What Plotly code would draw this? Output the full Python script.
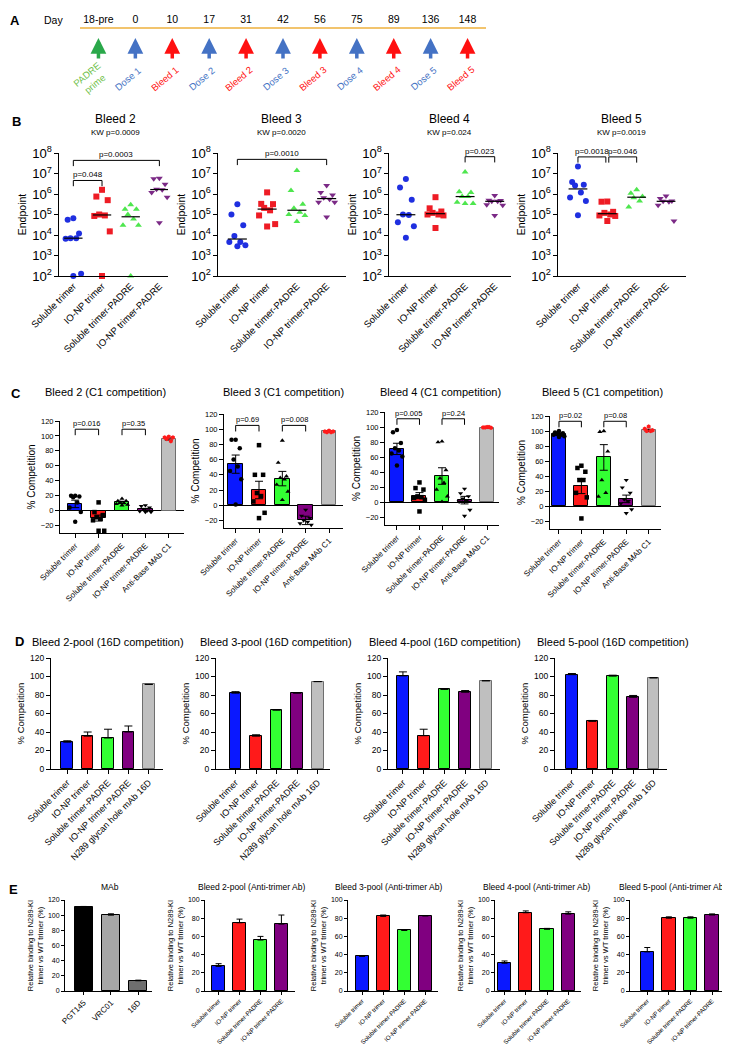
import math
import plotly.graph_objects as go

W, H = 730, 1050
FONT = "'Liberation Sans', Arial, sans-serif"

# ======================= DATA =======================
# Panel A: immunization schedule
days = ["18-pre", "0", "10", "17", "31", "42", "56", "75", "89", "136", "148"]
events = ["PADRE<br>prime", "Dose 1", "Bleed 1", "Dose 2", "Bleed 2", "Dose 3",
          "Bleed 3", "Dose 4", "Bleed 4", "Dose 5", "Bleed 5"]
event_types = ["prime", "dose", "bleed", "dose", "bleed", "dose",
               "bleed", "dose", "bleed", "dose", "bleed"]

groups = ["Soluble trimer", "IO-NP trimer", "Soluble trimer-PADRE", "IO-NP trimer-PADRE"]

# Panel B: endpoint titers (per group)
b_titles = ["Bleed 2", "Bleed 3", "Bleed 4", "Bleed 5"]
b_kw = ["KW p=0.0009", "KW p=0.0020", "KW p=0.024", "KW p=0.0019"]
b_bleed2 = [
    [6.5e4, 5.5e4, 1.2e4, 7e3, 7e3, 6.5e3, 130, 100],
    [1.6e6, 7.5e5, 5e5, 1e5, 9e4, 8.5e4, 1.5e4, 100],
    [3e5, 1.8e5, 1.8e5, 1e5, 6e4, 3e4, 3e4, 100],
    [5.8e6, 5.5e6, 3e6, 1.7e6, 1.6e6, 1.2e6, 7e5, 4e4],
]
b_bleed3 = [
    [3.2e5, 1e5, 3e4, 9e3, 4.5e3, 4.5e3, 3.2e3, 2.8e3],
    [1.2e6, 3.3e5, 3.2e5, 2.1e5, 1.6e5, 9e4, 3.4e4, 2.6e4],
    [1.4e7, 1.5e6, 3.2e5, 2e5, 1.3e5, 1e5, 9e4, 4.5e4],
    [2.6e6, 1.2e6, 9e5, 6.5e5, 5.5e5, 4e5, 4e5, 7.5e4],
]
b_bleed4 = [
    [5.4e6, 2.1e6, 5.2e5, 1e5, 9.5e4, 4.2e4, 2.7e4, 7.3e3],
    [7e5, 2e5, 1.4e5, 1.2e5, 1e5, 1e5, 9e4, 2.2e4],
    [1.2e7, 1.3e6, 1.2e6, 7.5e5, 7.5e5, 4e5, 3.4e5, 3.4e5],
    [8.5e5, 5e5, 4.8e5, 4.4e5, 4.4e5, 3e5, 2.8e5, 9e4],
]
b_bleed5 = [
    [2.2e7, 3.8e6, 2.8e6, 2.6e6, 1.2e6, 6.8e5, 4.6e5, 9.3e4],
    [4.3e5, 4.2e5, 1.35e5, 1.2e5, 1e5, 9e4, 8.5e4, 4.8e4],
    [1.6e6, 1.1e6, 7.5e5, 6.5e5, 4.5e5, 2.3e5],
    [8e5, 6e5, 4.6e5, 4.4e5, 4.2e5, 2.8e5, 4.8e4],
]
b_data = [b_bleed2, b_bleed3, b_bleed4, b_bleed5]
# (label, group i, group j, bracket top)
b_tests = [
    [("p=0.048", 0, 1, 10 ** 6.66), ("p=0.0003", 0, 3, 10 ** 7.64)],
    [("p=0.0010", 0, 3, 10 ** 7.69)],
    [("p=0.023", 2, 3, 10 ** 7.82)],
    [("p=0.0018", 0, 1, 10 ** 7.81), ("p=0.046", 1, 2, 10 ** 7.81)],
]

# Panel C: C1 competition (% competition)
c_titles = ["Bleed 2 (C1 competition)", "Bleed 3 (C1 competition)",
            "Bleed 4 (C1 competition)", "Bleed 5 (C1 competition)"]
c_categories = groups + ["Anti-Base MAb C1"]
c_means = [
    [9, -10, 11, 1.5, 96],
    [54, 20, 35, -20, 97],
    [71, 9, 35, 3, 99],
    [96, 27, 65, 10, 101],
]
c_sems = [
    [5, 4, 1.5, 1.5, 1.5],
    [12, 11.5, 9.5, 5.5, 1],
    [7.5, 4, 11, 5, 0.5],
    [1.5, 10, 17, 5, 1.5],
]
c_points = [
    [[20, 20, 19, 18, 11, 4, -2, -15],
     [11, -2, -6, -9, -11, -13, -27, -27],
     [16, 13, 13, 11, 10, 9, 8, 7],
     [7, 6, 4, 2, 0, -1, -2, -2],
     [99, 98, 98, 96, 93]],
    [[86, 86, 75, 60, 51, 45, 34, 1],
     [79, 40, 40, 16, 12, 5, -10, -17],
     [85, 56, 38, 36, 34, 27, 18, 7],
     [-6, -14, -17, -20, -22, -24, -26, -31],
     [98, 97, 97, 96, 96]],
    [[96, 93, 79, 72, 69, 65, 61, 49],
     [26.5, 19, 17, 8, 7, 6, 3.5, -12],
     [81, 80, 43, 32, 26, 17, 8, 1],
     [18, 12, 8, 5, 2, 1, -10, -18],
     [100, 99.5, 99, 99.5, 100]],
    [[100, 98, 97, 96, 95, 95, 93, 92],
     [54, 51, 46, 35, 35, 18, 12, -16],
     [100, 99, 73, 35, 18, 13],
     [35, 25, 18, 9, 7, 4, -4, -9],
     [106, 103, 101, 100, 100]],
]
c_tests = [
    [("p=0.016", 0, 1, 109), ("p=0.35", 2, 3, 109)],
    [("p=0.69", 0, 1, 105), ("p=0.008", 2, 3, 105)],
    [("p=0.005", 0, 1, 111), ("p=0.24", 2, 3, 111)],
    [("p=0.02", 0, 1, 113), ("p=0.08", 2, 3, 113)],
]

# Panel D: 16D competition of pooled sera
d_titles = ["Bleed 2-pool (16D competition)", "Bleed 3-pool (16D competition)",
            "Bleed 4-pool (16D competition)", "Bleed 5-pool (16D competition)"]
d_categories = groups + ["N289 glycan hole mAb 16D"]
d_means = [
    [29, 35.5, 33.5, 40, 91.5],
    [82, 35.5, 63.6, 82, 94.5],
    [100.7, 36, 86, 83, 95.4],
    [102, 51.5, 100.4, 77.5, 98.6],
]
d_errs = [
    [1.5, 4.5, 9.5, 6.5, 0],
    [1.6, 1.5, 0.4, 0.5, 0],
    [4.3, 7, 1, 1.8, 0],
    [1.2, 1, 1, 2, 0],
]

# Panel E: relative binding to N289-KI trimer vs WT trimer (%)
e_titles = ["MAb", "Bleed 2-pool (Anti-trimer Ab)", "Bleed 3-pool (Anti-trimer Ab)",
            "Bleed 4-pool (Anti-trimer Ab)", "Bleed 5-pool (Anti-trimer Ab)"]
e_mabs = ["PGT145", "VRC01", "16D"]
e_mab_vals = [111, 100, 13.5]
e_mab_errs = [0.5, 1.8, 0.8]
e_pool_vals = [
    [27, 75, 56, 73.5],
    [38, 82, 66.5, 82.5],
    [30.5, 86, 67.8, 84.5],
    [43, 80, 80, 83.5],
]
e_pool_errs = [
    [3, 4, 4, 10],
    [1, 1.5, 0.8, 0.3],
    [2.5, 2, 1, 2.5],
    [4.8, 1.5, 1.5, 1.2],
]

# ======================= STYLE =======================
COL_B = ["#1f2fe0", "#ee1c25", "#4ee64e", "#7b2a86"]
SYM_B = ["circle", "square", "triangle-up", "triangle-down"]
COL_BAR = ["#0a18ff", "#ff1a1a", "#33ff33", "#800080", "#bfbfbf"]
LINE_BAR = ["black", "black", "black", "black", "#6e6e6e"]
EV_COL = {"prime": "#2aa84a", "dose": "#4472c4", "bleed": "#ff1010"}
EV_TXT = {"prime": "#6fbf4a", "dose": "#4472c4", "bleed": "#ff1010"}
JIT = [0.0, -0.22, 0.22, -0.11, 0.11, -0.3, 0.3, 0.0, -0.15, 0.15]


def fy(py):
    return 1 - py / H


def tf(size):
    return dict(family=FONT, size=size, color="black")


fig = go.Figure()
layout = {}
annotations = []
count = [0]

base_axis = dict(showline=True, linecolor="black", linewidth=1, ticks="outside",
                 ticklen=4, tickwidth=1, tickcolor="black", showgrid=False,
                 zeroline=False, automargin=False, tickfont=tf(10))


def new_axes(x0, x1, ytop, ybot, xopts, yopts):
    count[0] += 1
    n = count[0]
    s = "" if n == 1 else str(n)
    xa = dict(base_axis)
    xa.update(domain=[x0 / W, x1 / W], anchor="y" + s)
    xa.update(xopts)
    ya = dict(base_axis)
    ya.update(domain=[fy(ybot), fy(ytop)], anchor="x" + s)
    ya.update(yopts)
    layout["xaxis" + s] = xa
    layout["yaxis" + s] = ya
    return "x" + s, "y" + s


def text(x, y, t, size, color="black", bold=False, **kw):
    a = dict(x=x / W, y=fy(y), xref="paper", yref="paper",
             text=("<b>%s</b>" % t) if bold else t, xanchor="center", yanchor="middle",
             showarrow=False, font=dict(family=FONT, size=size, color=color))
    a.update(kw)
    annotations.append(a)


def brackets(xr, yr, tests, leg_fn, logy, size):
    ends = [(t[1], t[2]) for t in tests]
    for lab, i, j, top in tests:
        # leave a small gap where two brackets share a group
        li = i + (0.05 if any(e[1] == i for e in ends) else 0)
        rj = j - (0.05 if any(e[0] == j for e in ends) else 0)
        leg = leg_fn(top)
        fig.add_trace(go.Scatter(x=[li, li, rj, rj], y=[leg, top, top, leg], mode="lines",
                                 line=dict(color="black", width=1), xaxis=xr, yaxis=yr,
                                 hoverinfo="skip", showlegend=False, cliponaxis=False))
        annotations.append(dict(x=(li + rj) / 2, y=math.log10(top) if logy else top,
                                xref=xr, yref=yr, text=lab, showarrow=False,
                                xanchor="center", yanchor="bottom", yshift=-1,
                                font=tf(size)))


# ======================= PANEL A =======================
xa, ya = new_axes(72, 478, 21, 60,
                  dict(range=[-0.5, 10.5], side="top", tickvals=list(range(len(days))),
                       ticktext=days, ticks="", linecolor="#f2c46d", linewidth=2,
                       tickfont=tf(10.5)),
                  dict(range=[0, 1], visible=False))
fig.add_trace(go.Scatter(x=[0], y=[0.5], mode="markers", marker=dict(opacity=0),
                         xaxis=xa, yaxis=ya, showlegend=False, hoverinfo="skip"))
for i, (ev, kind) in enumerate(zip(events, event_types)):
    annotations.append(dict(x=i, y=fy(30), xref=xa, yref="paper", ax=0, ay=22,
                            text="", showarrow=True, arrowhead=2, arrowsize=0.9,
                            arrowwidth=3.5, arrowcolor=EV_COL[kind]))
    annotations.append(dict(x=i, y=fy(71), xref=xa, yref="paper", text=ev,
                            textangle=-40, showarrow=False, xshift=-7,
                            xanchor="center", yanchor="middle",
                            font=dict(family=FONT, size=9.5, color=EV_TXT[kind])))
text(45, 12, "Day", 10.5)
text(7, 12, "A", 13, bold=True)

# ======================= PANEL B =======================
b_geo = [(51, 160, [-0.5, 3.3]), (210, 338, [-0.65, 3.65]),
         (381, 503, [-0.57, 3.55]), (550, 678, [-0.68, 3.68])]
b_title_x = [107, 273, 442, 613]
for p, (x0, x1, xr) in enumerate(b_geo):
    xa, ya = new_axes(x0, x1, 145, 268,
                      dict(range=xr, tickvals=[0, 1, 2, 3], ticktext=groups, tickangle=-45,
                           ticks="", tickfont=tf(9.5)),
                      dict(type="log", range=[2, 8], dtick=1, exponentformat="power",
                           tickfont=tf(10.5),
                           title=dict(text="Endpoint", standoff=3, font=tf(10.5))))
    for g, vals in enumerate(b_data[p]):
        xs = [g + JIT[k % len(JIT)] * 0.9 for k in range(len(vals))]
        fig.add_trace(go.Scatter(x=xs, y=vals, mode="markers", xaxis=xa, yaxis=ya,
                                 marker=dict(symbol=SYM_B[g], color=COL_B[g], size=6,
                                             line=dict(width=0)),
                                 showlegend=False, cliponaxis=False))
        sv = sorted(vals)
        n = len(sv)
        med = sv[n // 2] if n % 2 else math.sqrt(sv[n // 2 - 1] * sv[n // 2])
        fig.add_trace(go.Scatter(x=[g - 0.32, g + 0.32], y=[med, med], mode="lines",
                                 line=dict(color="black", width=1.2), xaxis=xa, yaxis=ya,
                                 showlegend=False, hoverinfo="skip"))
    brackets(xa, ya, b_tests[p], lambda t: t / 10 ** 0.28, True, 8)
    text(b_title_x[p], 111, b_titles[p], 12)
    text(b_title_x[p], 124, b_kw[p], 8)
text(8, 114, "B", 13, bold=True)

# ======================= PANEL C =======================
c_geo = [(52, 176, 413, 525, [-0.65, 4.65]), (216, 335, 406, 520, [-0.5, 4.6]),
         (377, 491, 404, 517, [-0.53, 4.53]), (542, 653, 408, 521, [-0.4, 4.55])]
c_title_x = [97, 275, 433, 594]
for p, (x0, x1, yt, yb, xr) in enumerate(c_geo):
    xa, ya = new_axes(x0, x1, yt, yb,
                      dict(range=xr, tickvals=list(range(5)), ticktext=c_categories,
                           tickangle=-45, tickfont=tf(8)),
                      dict(range=[-30, 120], dtick=20, zeroline=True, zerolinecolor="black",
                           zerolinewidth=1, tickfont=tf(7.5),
                           title=dict(text="% Competition", standoff=3, font=tf(10))))
    fig.add_trace(go.Bar(x=list(range(5)), y=c_means[p], width=0.62, xaxis=xa, yaxis=ya,
                         marker=dict(color=COL_BAR, line=dict(color=LINE_BAR, width=1)),
                         error_y=dict(type="data", array=c_sems[p], color="black",
                                      thickness=1, width=4),
                         showlegend=False))
    for g, vals in enumerate(c_points[p]):
        xs = [g + JIT[k % len(JIT)] * 0.8 for k in range(len(vals))]
        if g < 4:
            mk = dict(symbol=SYM_B[g], color="black", size=4.5)
        else:
            mk = dict(symbol="hexagon", color="#ff1a1a", size=4.5)
        fig.add_trace(go.Scatter(x=xs, y=vals, mode="markers", marker=mk, xaxis=xa,
                                 yaxis=ya, showlegend=False, cliponaxis=False))
    brackets(xa, ya, c_tests[p], lambda t: t - 8, False, 7.5)
    text(c_title_x[p], 384, c_titles[p], 11)
text(8, 385, "C", 13, bold=True)

# ======================= PANEL D =======================
d_geo = [(43, 155, [-0.8, 4.7]), (208, 322, [-0.95, 4.6]),
         (380, 492, [-0.72, 4.68]), (547, 659, [-0.83, 4.66])]
d_title_x = [100, 268, 437, 605]
for p, (x0, x1, xr) in enumerate(d_geo):
    xa, ya = new_axes(x0, x1, 650, 761,
                      dict(range=xr, tickvals=list(range(5)), ticktext=d_categories,
                           tickangle=-45, tickfont=tf(9)),
                      dict(range=[0, 120], dtick=20, tickfont=tf(8.5),
                           title=dict(text="% Competition", standoff=3, font=tf(9.5))))
    fig.add_trace(go.Bar(x=list(range(5)), y=d_means[p], width=0.57, xaxis=xa, yaxis=ya,
                         marker=dict(color=COL_BAR, line=dict(color=LINE_BAR, width=1)),
                         error_y=dict(type="data", symmetric=False, array=d_errs[p],
                                      arrayminus=[0] * 5, color="black", thickness=1, width=4),
                         showlegend=False))
    text(d_title_x[p], 634, d_titles[p], 11)
text(12, 633, "D", 13, bold=True)

# ======================= PANEL E =======================
e_geo = [(57, 144, [-0.68, 2.5]), (197, 287, [-0.65, 3.65]), (340, 430, [-0.67, 3.6]),
         (487, 573, [-0.45, 3.6]), (622, 717, [-0.8, 3.6])]
e_title_x = [102, 243, 380, 528, 664]
e_ytitle = "Relative binding to N289-KI<br>trimer vs WT trimer (%)"
for p, (x0, x1, xr) in enumerate(e_geo):
    if p == 0:
        cats, vals, errs, ymax = e_mabs, e_mab_vals, e_mab_errs, 120
        cols = ["#000000", "#a6a6a6", "#6e6e6e"]
        width, xfs = 0.65, 8
    else:
        cats, vals, errs, ymax = groups, e_pool_vals[p - 1], e_pool_errs[p - 1], 100
        cols = COL_BAR[:4]
        width, xfs = 0.62, 6.2
    xa, ya = new_axes(x0, x1, 892, 983,
                      dict(range=xr, tickvals=list(range(len(cats))), ticktext=cats,
                           tickangle=-45, ticklen=3, tickfont=tf(xfs)),
                      dict(range=[0, ymax], dtick=20, ticklen=3, tickfont=tf(7),
                           title=dict(text=e_ytitle, standoff=3, font=tf(7.5))))
    fig.add_trace(go.Bar(x=list(range(len(cats))), y=vals, width=width, xaxis=xa, yaxis=ya,
                         marker=dict(color=cols, line=dict(color="black", width=1)),
                         error_y=dict(type="data", symmetric=False, array=errs,
                                      arrayminus=[0] * len(cats), color="black",
                                      thickness=1, width=3),
                         showlegend=False))
    text(e_title_x[p], 879, e_titles[p], 8.5)
text(6, 881, "E", 13, bold=True)

layout.update(width=W, height=H, margin=dict(l=0, r=0, t=0, b=0),
              paper_bgcolor="white", plot_bgcolor="white", showlegend=False,
              bargap=0, annotations=annotations,
              font=dict(family=FONT, color="black"))
fig.update_layout(**layout)
fig.write_html("out.html")
